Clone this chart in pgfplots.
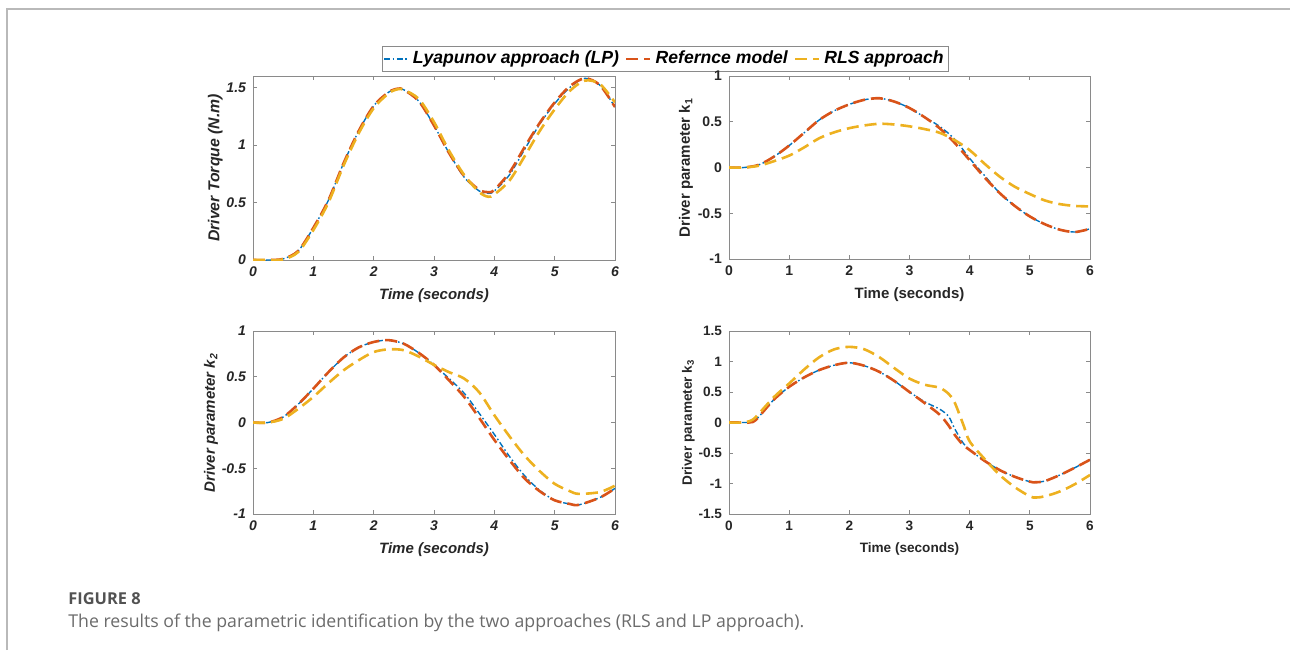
\documentclass[border=0pt]{standalone}
\usepackage{fontspec}
\setmainfont{Liberation Sans}
\newfontfamily\capfont{Open Sans}
\usepackage{pgfplots}
\pgfplotsset{compat=1.18}
\definecolor{mblue}{rgb}{0,0.447,0.741}
\definecolor{mred}{rgb}{0.85,0.325,0.098}
\definecolor{myel}{rgb}{0.929,0.694,0.125}
\definecolor{axgray}{HTML}{8A8A8A}

\pgfplotsset{
  mstyle/.style={scale only axis, xmin=0, xmax=6, xtick={0,...,6},
    tick align=inside, major tick length=2.2pt,
    axis line style={axgray, line width=0.5pt},
    every tick/.style={axgray, line width=0.4pt},
    /pgf/number format/assume math mode=true,
    ticklabel style={font=\fontsize{7}{8}\selectfont\bfseries, text=black!85},
    label style={font=\fontsize{7.5}{9}\selectfont\bfseries, text=black!85},
    xlabel={Time (seconds)},
    xlabel style={yshift=1pt},
    legend image code/.code={\draw[#1] (0pt,0pt) -- (12pt,0pt);},
  },
  ital/.style={ticklabel style={font=\fontsize{7}{8}\selectfont\bfseries\itshape},
    label style={font=\fontsize{7.5}{9}\selectfont\bfseries\itshape}},
  lp/.style={mblue, line width=0.7pt, dash pattern=on 3pt off 1.3pt on 0.8pt off 1.3pt, smooth},
  ref/.style={mred, line width=1.3pt, dash pattern=on 6pt off 3pt, smooth},
  rls/.style={myel, line width=1.3pt, dash pattern=on 6pt off 3pt, smooth},
}

\pgfplotstableread{
t lp ref rls
0 0 0 0
0.25 0 0 0
0.5 0.01 0.01 0.005
0.75 0.08 0.08 0.07
1 0.28 0.28 0.26
1.25 0.52 0.52 0.50
1.5 0.84 0.84 0.82
1.75 1.12 1.12 1.10
2 1.34 1.34 1.32
2.25 1.46 1.46 1.45
2.4 1.49 1.49 1.485
2.5 1.48 1.48 1.48
2.75 1.38 1.38 1.40
3 1.17 1.17 1.20
3.25 0.93 0.93 0.95
3.5 0.72 0.73 0.74
3.75 0.60 0.61 0.59
3.9 0.58 0.59 0.55
4 0.60 0.61 0.57
4.25 0.74 0.76 0.69
4.5 0.96 0.98 0.90
4.75 1.18 1.19 1.12
5 1.36 1.37 1.31
5.25 1.50 1.51 1.47
5.5 1.58 1.58 1.56
5.75 1.52 1.52 1.53
6 1.33 1.33 1.37
}\tq

\pgfplotstableread{
t lp ref rls
0 0 0 0
0.25 0 0 0
0.5 0.03 0.03 0.02
0.75 0.12 0.12 0.07
1 0.24 0.24 0.13
1.25 0.38 0.38 0.22
1.5 0.52 0.52 0.32
1.75 0.62 0.62 0.385
2 0.69 0.69 0.43
2.25 0.74 0.74 0.46
2.5 0.757 0.757 0.478
2.75 0.72 0.72 0.47
3 0.65 0.65 0.45
3.25 0.55 0.55 0.42
3.5 0.45 0.43 0.38
3.75 0.31 0.27 0.30
4 0.10 0.08 0.19
4.25 -0.09 -0.11 0.04
4.5 -0.28 -0.28 -0.10
4.75 -0.42 -0.42 -0.21
5 -0.535 -0.535 -0.29
5.25 -0.62 -0.62 -0.36
5.5 -0.68 -0.68 -0.40
5.75 -0.705 -0.705 -0.42
6 -0.67 -0.67 -0.425
}\ka

\pgfplotstableread{
t lp ref rls
0 0 0 0
0.25 0 0 0
0.5 0.06 0.06 0.04
0.75 0.20 0.20 0.15
1 0.37 0.37 0.28
1.25 0.55 0.55 0.43
1.5 0.71 0.71 0.57
1.75 0.82 0.82 0.68
2 0.88 0.88 0.77
2.25 0.90 0.90 0.80
2.5 0.86 0.86 0.79
2.75 0.76 0.76 0.72
3 0.63 0.63 0.63
3.25 0.48 0.46 0.55
3.5 0.32 0.28 0.48
3.75 0.10 0.05 0.33
4 -0.13 -0.19 0.08
4.25 -0.37 -0.41 -0.15
4.5 -0.58 -0.61 -0.36
4.75 -0.74 -0.75 -0.53
5 -0.85 -0.85 -0.67
5.25 -0.89 -0.89 -0.75
5.4 -0.90 -0.90 -0.78
5.75 -0.82 -0.82 -0.76
6 -0.72 -0.72 -0.69
}\kb

\pgfplotstableread{
t lp ref rls
0 0 0 0
0.25 0 0 0
0.4 0.01 0.01 0.05
0.5 0.10 0.10 0.15
0.75 0.38 0.38 0.42
1 0.585 0.585 0.64
1.25 0.74 0.74 0.87
1.5 0.86 0.86 1.07
1.75 0.94 0.94 1.20
2 0.98 0.98 1.24
2.25 0.93 0.93 1.20
2.5 0.83 0.83 1.07
2.75 0.68 0.68 0.89
3 0.50 0.50 0.72
3.25 0.34 0.32 0.62
3.5 0.22 0.13 0.57
3.65 0.10 -0.05 0.47
3.75 -0.10 -0.20 0.33
3.9 -0.35 -0.38 -0.05
4 -0.45 -0.45 -0.31
4.25 -0.63 -0.63 -0.60
4.5 -0.78 -0.78 -0.86
4.75 -0.89 -0.89 -1.06
5 -0.97 -0.97 -1.21
5.1 -0.98 -0.98 -1.23
5.25 -0.96 -0.96 -1.21
5.5 -0.86 -0.86 -1.13
5.75 -0.74 -0.74 -1.01
6 -0.61 -0.61 -0.86
}\kc

\begin{document}
\begin{tikzpicture}
\useasboundingbox (0,0) rectangle (645pt,-325pt);
\draw[gray!55, line width=0.6pt] (3.5pt,-325pt) -- (3.5pt,-4.5pt) -- (645pt,-4.5pt);

% top left
\begin{axis}[mstyle, ital, at={(126.5pt,-130pt)}, anchor=south west,
  width=181pt, height=92pt, ymin=0, ymax=1.6, ytick={0,0.5,1,1.5},
  ylabel={Driver Torque (N.m)},
  ylabel style={font=\fontsize{7.9}{9}\selectfont\bfseries\itshape, yshift=-5pt},
  legend columns=3,
  legend style={at={(1.1395,1.0924)}, anchor=center, draw=axgray, line width=0.5pt,
    font=\fontsize{8.8}{10}\selectfont\bfseries\itshape, inner sep=0.5pt,
    /tikz/every even column/.append style={column sep=1pt}},
  ]
\addplot[lp] table[x=t,y=lp]{\tq};
\addplot[ref] table[x=t,y=ref]{\tq};
\addplot[rls] table[x=t,y=rls]{\tq};
\legend{Lyapunov approach (LP),Refernce model,RLS approach}
\end{axis}

% top right
\begin{axis}[mstyle, at={(364.5pt,-129.5pt)}, anchor=south west,
  width=180.5pt, height=91.5pt, ymin=-1, ymax=1, ytick={-1,-0.5,0,0.5,1},
  ylabel={Driver parameter k\textsubscript{1}}, ylabel style={yshift=-4.5pt}]
\addplot[lp] table[x=t,y=lp]{\ka};
\addplot[ref] table[x=t,y=ref]{\ka};
\addplot[rls] table[x=t,y=rls]{\ka};
\end{axis}

% bottom left
\begin{axis}[mstyle, ital, at={(126.5pt,-257pt)}, anchor=south west,
  width=181pt, height=91.5pt, ymin=-1, ymax=1, ytick={-1,-0.5,0,0.5,1},
  ylabel={Driver parameter k\textsubscript{2}}, ylabel style={yshift=-5pt}]
\addplot[lp] table[x=t,y=lp]{\kb};
\addplot[ref] table[x=t,y=ref]{\kb};
\addplot[rls] table[x=t,y=rls]{\kb};
\end{axis}

% bottom right
\begin{axis}[mstyle, at={(364.5pt,-257pt)}, anchor=south west,
  width=180.5pt, height=91.5pt, ymin=-1.5, ymax=1.5, ytick={-1.5,-1,-0.5,0,0.5,1,1.5},
  ylabel={Driver parameter k\textsubscript{3}},
  label style={font=\fontsize{6.8}{8}\selectfont\bfseries},
  ylabel style={yshift=-5pt},
  ticklabel style={font=\fontsize{6.8}{8}\selectfont\bfseries}]
\addplot[lp] table[x=t,y=lp]{\kc};
\addplot[ref] table[x=t,y=ref]{\kc};
\addplot[rls] table[x=t,y=rls]{\kc};
\end{axis}

\node[anchor=base west, inner sep=0pt, text=black!68] at (34pt,-302pt)
  {\capfont\bfseries\fontsize{8.2}{10}\selectfont FIGURE 8};
\node[anchor=base west, inner sep=0pt, text=black!58] at (34pt,-313.5pt)
  {\capfont\fontsize{8.85}{10}\selectfont The results of the parametric identification by the two approaches (RLS and LP approach).};
\end{tikzpicture}
\end{document}
